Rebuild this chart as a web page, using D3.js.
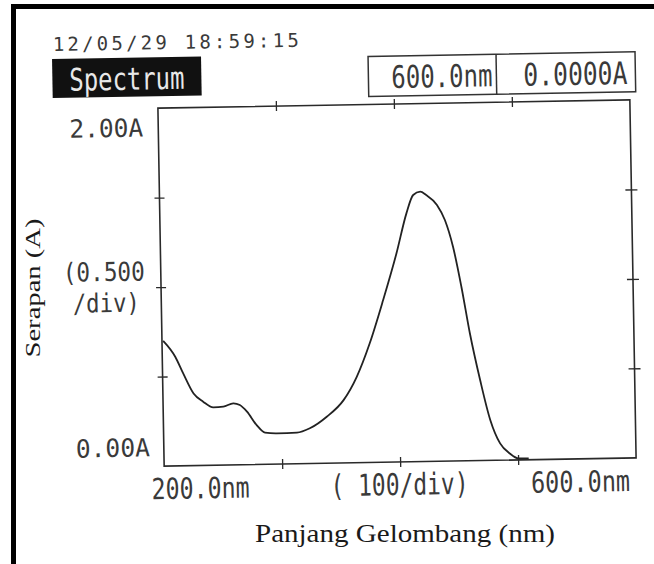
<!DOCTYPE html>
<html>
<head>
<meta charset="utf-8">
<script src="https://cdn.jsdelivr.net/npm/d3@7"></script>
<style>
	html, body { margin: 0; padding: 0; background: #ffffff; }
	svg { display: block; }
	.mono { font-family: 'DejaVu Sans Mono', 'Liberation Mono', monospace; fill: #3a3a3a; }
	.axis path { display: none; }
	.axis line { stroke: #2a2a2a; stroke-width: 1.3; }
</style>
</head>
<body>
<script>

// values
var wavelengths = [ 201, 211, 217.5, 226, 234, 242.5, 251, 259.5, 265, 271, 279, 286, 296, 313, 324, 338.5, 353, 364.5, 376, 388, 400, 409, 415, 421, 426, 435, 441.5, 448, 454.5, 461, 469, 477, 485, 493, 500, 509 ];
var absorbance = [ 0.70, 0.61, 0.516, 0.403, 0.356, 0.323, 0.326, 0.344, 0.334, 0.296, 0.22, 0.177, 0.172, 0.174, 0.197, 0.26, 0.351, 0.48, 0.666, 0.906, 1.166, 1.388, 1.49, 1.508, 1.489, 1.432, 1.347, 1.197, 0.973, 0.712, 0.45, 0.226, 0.094, 0.037, 0.009, 0.008 ];

var xTicks = [ 300, 400, 500 ];
var yTicks = [ 0.5, 1.0, 1.5 ];
var xLabels = [ '200.0nm', '( 100/div)', '600.0nm' ];
var xLabelAt = [ 197, 396, 577 ];
var headerText = [ '600.0nm', '0.0000A' ];
var stamp = '12/05/29 18:59:15';

var width = 654;
var height = 564;

var frame = { left: 161, right: 633, top: 104, bottom: 462 };
var tilt = -1; // the scan is turned about one degree

var els = {};

els.svg = d3.select( 'body' ).append( 'svg' )
	.attr( 'width', width )
	.attr( 'height', height );

// black page border, left and top
els.svg.append( 'rect' ).attr( 'x', 11 ).attr( 'y', 4 ).attr( 'width', 5 ).attr( 'height', height ).attr( 'fill', '#000' );
els.svg.append( 'rect' ).attr( 'x', 11 ).attr( 'y', 4 ).attr( 'width', width ).attr( 'height', 5 ).attr( 'fill', '#000' );

els.print = els.svg.append( 'g' ).attr( 'id', 'print' )
	.attr( 'transform', 'rotate(' + tilt + ',397,283)' );

var scales = {};

scales.x = d3.scaleLinear()
	.domain( [ 200, 600 ] )
	.range( [ frame.left, frame.right ] );

scales.y = d3.scaleLinear()
	.domain( [ 0, 2 ] )
	.range( [ frame.bottom, frame.top ] );

// header
els.print.append( 'text' ).classed( 'mono', true )
	.attr( 'x', 57 ).attr( 'y', 45 )
	.attr( 'font-family', 'Liberation Mono' )
	.attr( 'font-size', 19 )
	.attr( 'textLength', 246 )
	.attr( 'lengthAdjust', 'spacing' )
	.text( stamp );

els.print.append( 'rect' )
	.attr( 'x', 56 ).attr( 'y', 53 ).attr( 'width', 149 ).attr( 'height', 39 )
	.attr( 'fill', '#111' );

els.print.append( 'text' ).classed( 'mono', true )
	.attr( 'x', 73 ).attr( 'y', 85 )
	.attr( 'font-size', 31 )
	.attr( 'textLength', 115 )
	.attr( 'lengthAdjust', 'spacingAndGlyphs' )
	.style( 'fill', '#e8e8e8' )
	.text( 'Spectrum' );

els.print.append( 'rect' )
	.attr( 'x', 372 ).attr( 'y', 56 ).attr( 'width', 267 ).attr( 'height', 40 )
	.attr( 'fill', 'none' ).attr( 'stroke', '#333' ).attr( 'stroke-width', 1.5 );
els.print.append( 'line' )
	.attr( 'x1', 500 ).attr( 'x2', 500 ).attr( 'y1', 56 ).attr( 'y2', 96 )
	.attr( 'stroke', '#333' ).attr( 'stroke-width', 1.5 );

els.print.append( 'text' ).classed( 'mono', true )
	.attr( 'x', 395 ).attr( 'y', 88 )
	.attr( 'font-size', 31 )
	.attr( 'textLength', 101 )
	.attr( 'lengthAdjust', 'spacingAndGlyphs' )
	.text( headerText[0] );

els.print.append( 'text' ).classed( 'mono', true )
	.attr( 'x', 527 ).attr( 'y', 88 )
	.attr( 'font-size', 31 )
	.attr( 'textLength', 104 )
	.attr( 'lengthAdjust', 'spacingAndGlyphs' )
	.text( headerText[1] );

// plot frame
els.print.append( 'rect' )
	.attr( 'x', frame.left ).attr( 'y', frame.top )
	.attr( 'width', frame.right - frame.left ).attr( 'height', frame.bottom - frame.top )
	.attr( 'fill', 'none' ).attr( 'stroke', '#2a2a2a' ).attr( 'stroke-width', 1.6 );

var axes = {};

axes.left = d3.axisLeft( scales.y ).tickValues( yTicks ).tickFormat( '' ).tickSize( 5 );
axes.right = d3.axisRight( scales.y ).tickValues( yTicks ).tickFormat( '' ).tickSize( 6 );
axes.top = d3.axisTop( scales.x ).tickValues( xTicks ).tickFormat( '' ).tickSize( 5 );
axes.bottom = d3.axisBottom( scales.x ).tickValues( xTicks ).tickFormat( '' ).tickSize( 5 );

els.leftAxis = els.print.append( 'g' ).classed( 'axis', true )
	.attr( 'transform', 'translate(' + frame.left + ',0)' ).call( axes.left );
els.rightAxis = els.print.append( 'g' ).classed( 'axis', true )
	.attr( 'transform', 'translate(' + frame.right + ',0)' ).call( axes.right );
els.topAxis = els.print.append( 'g' ).classed( 'axis', true )
	.attr( 'transform', 'translate(0,' + frame.top + ')' ).call( axes.top );
els.bottomAxis = els.print.append( 'g' ).classed( 'axis', true )
	.attr( 'transform', 'translate(0,' + frame.bottom + ')' ).call( axes.bottom );

// ticks on the printout cross the frame line
els.leftAxis.selectAll( '.tick line' ).attr( 'x1', 5 );
els.rightAxis.selectAll( '.tick line' ).attr( 'x1', -6 );
els.topAxis.selectAll( '.tick line' ).attr( 'y1', 5 );
els.bottomAxis.selectAll( '.tick line' ).attr( 'y1', -5 );

// y labels
els.print.append( 'text' ).classed( 'mono', true )
	.attr( 'x', 146 ).attr( 'y', 132 ).attr( 'text-anchor', 'end' )
	.attr( 'font-size', 25 )
	.attr( 'textLength', 74 ).attr( 'lengthAdjust', 'spacingAndGlyphs' )
	.text( '2.00A' );

els.print.append( 'text' ).classed( 'mono', true )
	.attr( 'x', 147 ).attr( 'y', scales.y( 0 ) - 10 ).attr( 'text-anchor', 'end' )
	.attr( 'font-size', 25 )
	.attr( 'textLength', 74 ).attr( 'lengthAdjust', 'spacingAndGlyphs' )
	.text( '0.00A' );

els.print.append( 'text' ).classed( 'mono', true )
	.attr( 'x', 104 ).attr( 'y', 276 ).attr( 'text-anchor', 'middle' )
	.attr( 'font-size', 26 )
	.attr( 'textLength', 82 ).attr( 'lengthAdjust', 'spacingAndGlyphs' )
	.text( '(0.500' );

els.print.append( 'text' ).classed( 'mono', true )
	.attr( 'x', 106 ).attr( 'y', 307 ).attr( 'text-anchor', 'middle' )
	.attr( 'font-size', 26 )
	.attr( 'textLength', 67 ).attr( 'lengthAdjust', 'spacingAndGlyphs' )
	.text( '/div)' );

// x labels
var xLabelWidths = [ 98, 138, 99 ];
xLabels.forEach( function ( label, i ) {
	els.print.append( 'text' ).classed( 'mono', true )
		.attr( 'x', xLabelAt[i] ).attr( 'y', scales.y( 0 ) + 33 ).attr( 'text-anchor', 'middle' )
		.attr( 'font-size', i === 1 ? 30 : 29 )
		.attr( 'textLength', xLabelWidths[i] ).attr( 'lengthAdjust', 'spacingAndGlyphs' )
		.text( label );
} );

// the spectrum
var points = wavelengths.map( function ( w, i ) {
	return { x: w, y: absorbance[i] };
} );

var line = d3.line()
	.x( function ( d ) { return scales.x( d.x ); } )
	.y( function ( d ) { return scales.y( d.y ); } )
	.curve( d3.curveMonotoneX );

els.print.append( 'path' )
	.datum( points )
	.attr( 'd', line )
	.attr( 'fill', 'none' )
	.attr( 'stroke', '#222' )
	.attr( 'stroke-width', 1.8 );

// labels typed on top of the scan
els.svg.append( 'text' )
	.attr( 'x', 405 ).attr( 'y', 542 ).attr( 'text-anchor', 'middle' )
	.attr( 'font-family', 'Liberation Serif, serif' )
	.attr( 'font-size', 25 )
	.attr( 'textLength', 300 ).attr( 'lengthAdjust', 'spacingAndGlyphs' )
	.attr( 'fill', '#1a1a1a' )
	.text( 'Panjang Gelombang (nm)' );

els.svg.append( 'text' )
	.attr( 'transform', 'translate(40,288) rotate(-90)' )
	.attr( 'text-anchor', 'middle' )
	.attr( 'font-family', 'Liberation Serif, serif' )
	.attr( 'font-size', 22 )
	.attr( 'textLength', 139 ).attr( 'lengthAdjust', 'spacingAndGlyphs' )
	.attr( 'fill', '#1a1a1a' )
	.text( 'Serapan (A)' );

</script>
</body>
</html>
